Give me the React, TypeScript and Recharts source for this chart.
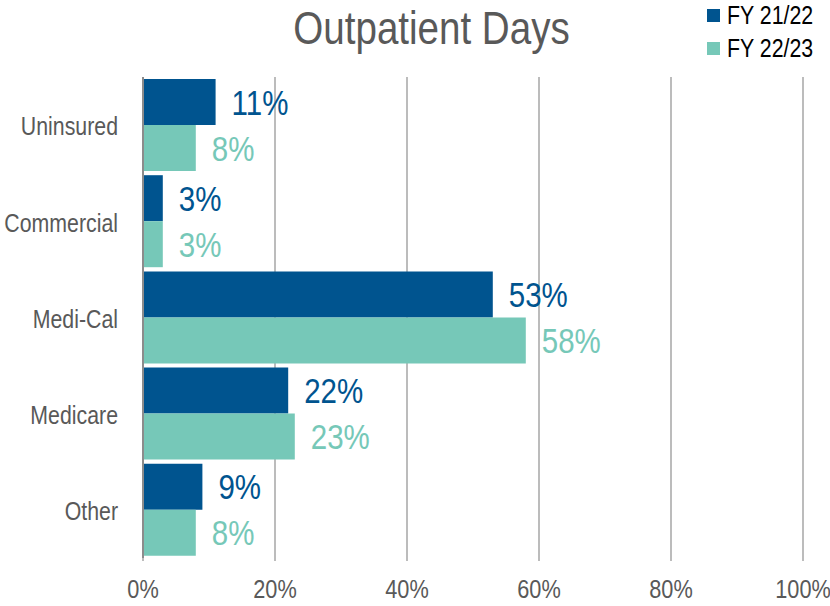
import React from 'react';
import { BarChart, Bar, XAxis, YAxis, CartesianGrid, LabelList } from 'recharts';

const categories = ['Uninsured', 'Commercial', 'Medi-Cal', 'Medicare', 'Other'];
const fy2122 = [11, 3, 53, 22, 9];
const fy2223 = [8, 3, 58, 23, 8];
const seriesNames = ['FY 21/22', 'FY 22/23'];
const xTicks = [0, 20, 40, 60, 80, 100];

const COLORS = ['#00548F', '#76C8B8'];
const FONT = "'Liberation Sans', Arial, sans-serif";
const NARROW = 0.82; // fake Arial Narrow

const data = categories.map((name, i) => ({ name, a: fy2122[i], b: fy2223[i] }));

const NarrowText = ({ x, y, anchor, size, fill, children }: any) => (
  <text
    transform={`translate(${x},${y}) scale(${NARROW},1)`}
    textAnchor={anchor}
    dominantBaseline="central"
    fontSize={size}
    fill={fill}
    fontFamily={FONT}
  >
    {children}
  </text>
);

const XTick = ({ x, y, payload }: any) => (
  <NarrowText x={x} y={y + 24} anchor="middle" size={26.5} fill="#595959">
    {`${payload.value}%`}
  </NarrowText>
);

const YTick = ({ x, y, payload }: any) => (
  <NarrowText x={x} y={y + 1} anchor="end" size={26} fill="#595959">
    {payload.value}
  </NarrowText>
);

const makeLabel = (color: string) => (props: any) => {
  const { x, y, width, height, value } = props;
  return (
    <NarrowText x={x + width + 16} y={y + height / 2} anchor="start" size={36} fill={color}>
      {`${value}%`}
    </NarrowText>
  );
};

export default function App() {
  return (
    <div style={{ position: 'absolute', left: 0, top: 0, width: 830, height: 606, fontFamily: FONT, background: '#fff' }}>
      <div style={{ position: 'absolute', left: 0, width: 864, top: 2, textAlign: 'center', lineHeight: '52px' }}>
        <span style={{ display: 'inline-block', fontSize: 47, color: '#595959', transform: `scaleX(${NARROW})` }}>
          Outpatient Days
        </span>
      </div>
      <div style={{ position: 'absolute', left: 707, top: -1, width: 140 }}>
        {seriesNames.map((s, i) => (
          <div key={s} style={{ display: 'flex', alignItems: 'center', height: 33, fontSize: 26, color: '#000', whiteSpace: 'nowrap' }}>
            <span style={{ width: 13, height: 13, background: COLORS[i], marginRight: 7, display: 'inline-block', flexShrink: 0 }} />
            <span style={{ display: 'inline-block', whiteSpace: 'nowrap', transform: `scaleX(${NARROW})`, transformOrigin: 'left center' }}>{s}</span>
          </div>
        ))}
      </div>
      <div style={{ position: 'absolute', left: 0, top: 0 }}>
        <BarChart
          width={830}
          height={606}
          data={data}
          layout="vertical"
          margin={{ top: 77, right: 27, bottom: 0, left: 0 }}
          barCategoryGap={2}
          barGap={0}
        >
          <CartesianGrid horizontal={false} stroke="#a6a6a6" strokeWidth={1.5} />
          <XAxis
            type="number"
            domain={[0, 100]}
            ticks={xTicks}
            axisLine={false}
            tickLine={{ stroke: '#a6a6a6', strokeWidth: 1.5 }}
            tickSize={3}
            tickMargin={4}
            height={48}
            tick={<XTick />}
            interval={0}
          />
          <XAxis
            xAxisId="top"
            orientation="top"
            type="number"
            domain={[0, 100]}
            height={0}
            tick={false}
            tickLine={false}
            axisLine={{ stroke: '#a6a6a6', strokeWidth: 2 }}
          />
          <YAxis
            type="category"
            dataKey="name"
            width={143}
            axisLine={{ stroke: '#8c8c8c', strokeWidth: 2 }}
            tickLine={false}
            tickMargin={19}
            tick={<YTick />}
          />
          <Bar dataKey="a" fill={COLORS[0]} isAnimationActive={false}>
            <LabelList dataKey="a" content={makeLabel(COLORS[0])} />
          </Bar>
          <Bar dataKey="b" fill={COLORS[1]} isAnimationActive={false}>
            <LabelList dataKey="b" content={makeLabel(COLORS[1])} />
          </Bar>
        </BarChart>
      </div>
    </div>
  );
}
